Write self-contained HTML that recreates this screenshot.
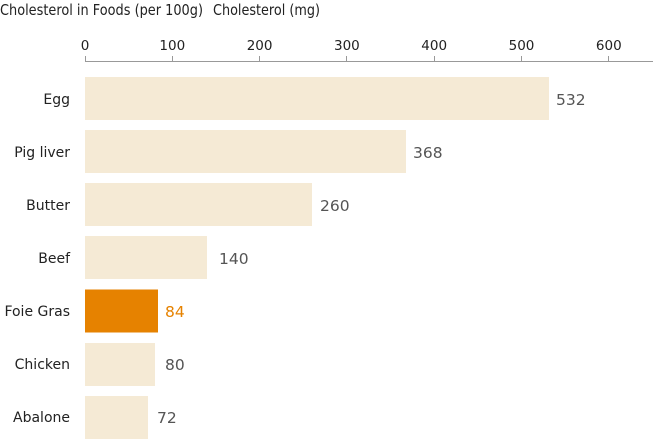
<!DOCTYPE html>
<html><head><meta charset="utf-8"><style>
body{margin:0;background:#fff;}
svg{display:block;font-family:"DejaVu Sans","Liberation Sans",sans-serif;}
</style></head><body>
<svg width="653" height="440" viewBox="0 0 653 440">
<text x="0" y="15" font-size="15" fill="#222" textLength="203" lengthAdjust="spacingAndGlyphs">Cholesterol in Foods (per 100g)</text>
<text x="213" y="15" font-size="15" fill="#222" textLength="107" lengthAdjust="spacingAndGlyphs">Cholesterol (mg)</text>
<g font-size="13.5" fill="#222" text-anchor="middle">
<text x="85" y="50">0</text><text x="172.3" y="50">100</text><text x="259.6" y="50">200</text><text x="346.9" y="50">300</text><text x="434.2" y="50">400</text><text x="521.5" y="50">500</text><text x="608.8" y="50">600</text>
</g>
<line x1="85" y1="61.5" x2="653" y2="61.5" stroke="#999" stroke-width="1"/>
<g stroke="#999" stroke-width="1">
<line x1="85.5" y1="56" x2="85.5" y2="62"/><line x1="172.5" y1="56" x2="172.5" y2="62"/><line x1="259.5" y1="56" x2="259.5" y2="62"/><line x1="346.5" y1="56" x2="346.5" y2="62"/><line x1="434.5" y1="56" x2="434.5" y2="62"/><line x1="521.5" y1="56" x2="521.5" y2="62"/><line x1="608.5" y1="56" x2="608.5" y2="62"/>
</g>
<g fill="#f5ead5">
<rect x="85" y="77" width="464" height="43"/>
<rect x="85" y="130" width="321" height="43"/>
<rect x="85" y="183" width="227" height="43"/>
<rect x="85" y="236" width="122" height="43"/>
<rect x="85" y="343" width="70" height="43"/>
<rect x="85" y="396" width="63" height="43"/>
</g>
<rect x="85" y="289.5" width="73" height="43" fill="#e68200"/>
<g font-size="14" fill="#222" text-anchor="end">
<text x="70" y="104">Egg</text><text x="70" y="157">Pig liver</text><text x="70" y="210">Butter</text><text x="70" y="263">Beef</text><text x="70" y="316">Foie Gras</text><text x="70" y="369">Chicken</text><text x="70" y="422">Abalone</text>
</g>
<g font-size="15.5" fill="#555">
<text x="556" y="105">532</text><text x="413" y="158">368</text><text x="320" y="211">260</text><text x="219" y="264">140</text><text x="165" y="317" fill="#e68200">84</text><text x="165" y="370">80</text><text x="157" y="423">72</text>
</g>
</svg>
</body></html>
